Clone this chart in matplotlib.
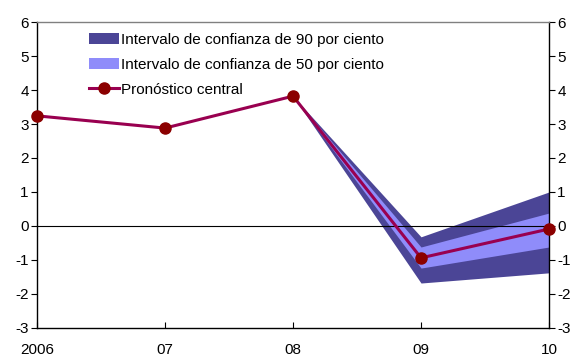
import numpy as np
import matplotlib.pyplot as plt
from matplotlib.patches import Patch
from matplotlib.lines import Line2D

years = [2006, 2007, 2008, 2009, 2010]
tick_labels = ["2006", "07", "08", "09", "10"]
central = [3.24, 2.88, 3.82, -0.94, -0.09]

# bands start from the last observed point (2008)
band_years = [2008, 2009, 2010]
lo90 = [3.82, -1.68, -1.38]
hi90 = [3.82, -0.32, 1.0]
lo50 = [3.82, -1.24, -0.62]
hi50 = [3.82, -0.62, 0.38]

c90 = "#4b4596"
c50 = "#8f8cfa"
cline = "#990050"
cmark = "#8b0000"

plt.rcParams['font.family'] = ['Liberation Sans', 'DejaVu Sans']
plt.rcParams['axes.unicode_minus'] = False

fig = plt.figure(figsize=(5.74, 3.56), dpi=100)
ax = fig.add_axes([0.0645, 0.079, 0.892, 0.859])

ax.fill_between(band_years, lo90, hi90, color=c90, lw=0)
ax.fill_between(band_years, lo50, hi50, color=c50, lw=0)
ax.axhline(0, color="black", lw=0.8)
ax.plot(years, central, color=cline, lw=2.2, marker="o", ms=8,
        mfc=cmark, mec=cmark, clip_on=False, zorder=5)

ax.set_xlim(2006, 2010)
ax.set_ylim(-3, 6)
ax.set_xticks(years)
ax.set_xticklabels(tick_labels, fontsize=11)
ax.set_yticks(range(-3, 7))
ax.tick_params(axis="x", direction="in", length=4, pad=11)
ax.tick_params(axis="y", direction="out", length=4, labelsize=11,
               right=True, labelright=True, pad=2)
for s in ax.spines.values():
    s.set_linewidth(1.0)
ax.spines["top"].set_color("#808080")

handles = [
    Patch(facecolor=c90, label="Intervalo de confianza de 90 por ciento"),
    Patch(facecolor=c50, label="Intervalo de confianza de 50 por ciento"),
    Line2D([0], [0], color=cline, lw=2.2, marker="o", ms=8,
           mfc=cmark, mec=cmark, label="Pronóstico central"),
]
ax.legend(handles=handles, loc="upper left", bbox_to_anchor=(0.08, 1.0),
          frameon=False, fontsize=11, handlelength=2.0, handleheight=0.7,
          handletextpad=0.1, labelspacing=0.72, borderaxespad=0.3)

fig.savefig("out.png", dpi=100)
